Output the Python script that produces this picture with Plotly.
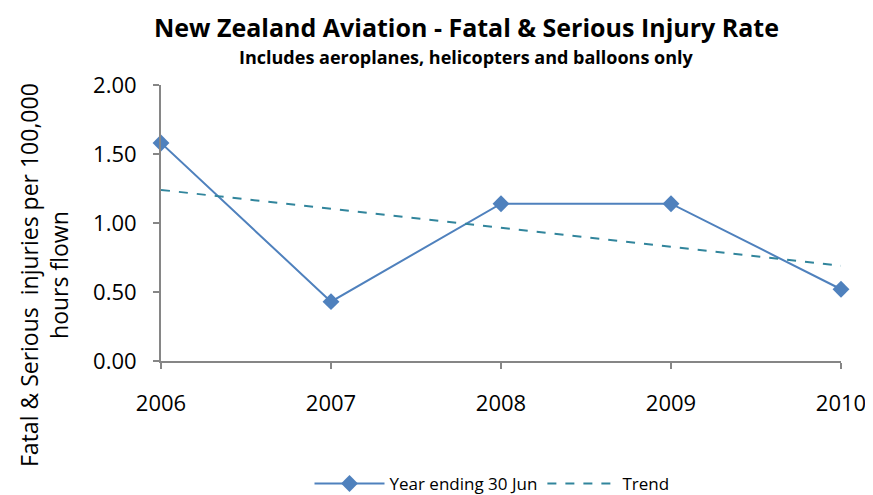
import plotly.graph_objects as go

years = [2006, 2007, 2008, 2009, 2010]
rate = [1.58, 0.43, 1.14, 1.14, 0.52]
trend_years = [2006, 2010]
trend_vals = [1.24, 0.69]
y_ticks = [0, 0.5, 1.0, 1.5, 2.0]

font = "Open Sans"
axis_col = "#868686"
OFF = 8  # page body margin
W, H = 873 - OFF, 495 - OFF
L, R, T, B = 161 - OFF, 32, 85 - OFF, 134
pw, ph = W - L - R, H - T - B


def px(x, y):
    # screenshot pixel (from top-left) -> paper coords
    x, y = x - OFF, y - OFF
    return (x - L) / pw, (H - y - B) / ph


fig = go.Figure()
fig.add_trace(go.Scatter(x=years, y=rate, mode="lines+markers", name="Year ending 30 Jun",
                         line=dict(color="#4F81BD", width=2),
                         marker=dict(symbol="diamond", size=13, color="#4F81BD"),
                         cliponaxis=False))
fig.add_trace(go.Scatter(x=trend_years, y=trend_vals, mode="lines", name="Trend",
                         line=dict(color="#31859C", width=2, dash="dash"),
                         cliponaxis=False))

tx, ty = px(466, 27)
sx, sy = px(466, 57)
ax, ay = px(44, 275)
lx, ly = px(492, 484)

fig.update_layout(
    width=W, height=H,
    margin=dict(l=L, r=R, t=T, b=B, autoexpand=False),
    plot_bgcolor="white", paper_bgcolor="white",
    font=dict(family=font, color="black"),
    showlegend=True,
    legend=dict(orientation="h", x=lx, xanchor="center", y=ly, yanchor="middle",
                font=dict(size=17), itemwidth=70),
    xaxis=dict(range=[2006, 2010], tickvals=years, ticktext=[str(y) for y in years],
               showgrid=False, zeroline=False, showline=True, linecolor=axis_col, linewidth=2,
               ticks="outside", ticklen=6, tickwidth=2, tickcolor=axis_col,
               tickfont=dict(size=22), ticklabelstandoff=16),
    yaxis=dict(range=[0, 2], tickvals=y_ticks, ticktext=["%.2f" % v for v in y_ticks],
               showgrid=False, zeroline=False, showline=True, linecolor=axis_col, linewidth=2,
               ticks="outside", ticklen=6, tickwidth=2, tickcolor=axis_col,
               tickfont=dict(size=22), ticklabelstandoff=12),
    annotations=[
        dict(text="<b>New Zealand Aviation - Fatal & Serious Injury Rate</b>", x=tx, y=ty,
             font=dict(size=25)),
        dict(text="<b>Includes aeroplanes, helicopters and balloons only</b>", x=sx, y=sy,
             font=dict(size=18)),
        dict(text="Fatal & Serious  injuries per 100,000<br>hours flown", x=ax, y=ay,
             textangle=-90, font=dict(size=23)),
    ],
)
fig.update_annotations(xref="paper", yref="paper", showarrow=False,
                       xanchor="center", yanchor="middle")

fig.write_html("out.html")
